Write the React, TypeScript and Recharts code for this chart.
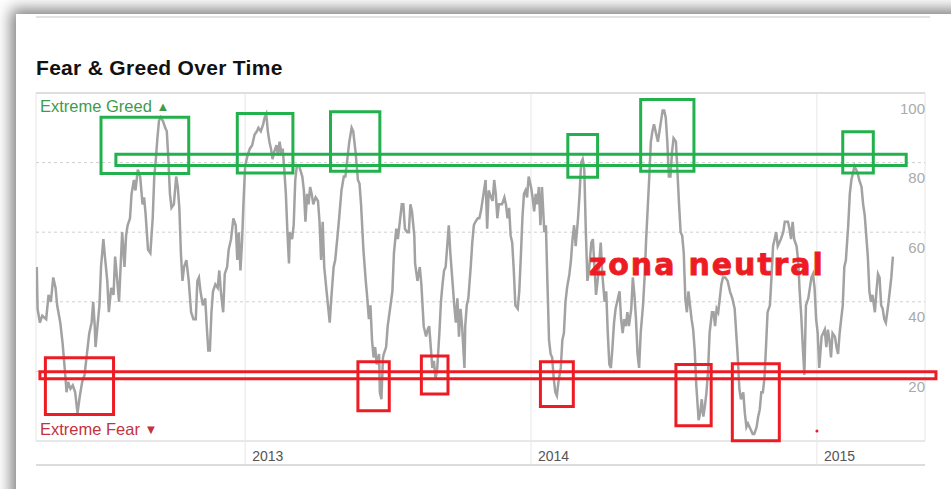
import React from "react";
import {
  LineChart,
  Line,
  XAxis,
  YAxis,
  CartesianGrid,
  ReferenceArea,
  ReferenceLine,
  ReferenceDot,
} from "recharts";

// days since 2013-01-01
const days = [
  -266, -265, -262, -259, -254, -251, -248, -245, -242, -240, -236, -233, -230, -228, -226, -223, -220, -217, -214, -211,
  -208, -205, -202, -199, -196, -194, -192, -191, -186, -184, -181, -179, -176, -174, -171, -168, -166, -164, -161, -159,
  -157, -154, -152, -150, -147, -145, -142, -140, -137, -134, -131, -129, -127, -124, -121, -118, -116, -114, -112, -110,
  -108, -105, -102, -100, -98, -96, -94, -91, -88, -86, -84, -82, -80, -78, -75, -72, -69, -66, -63, -61,
  -59, -57, -54, -51, -49, -47,
  -45, -43, -41, -38, -35, -33, -31, -28, -26, -23, -21, -18, -15, -12, -10, -8, -6, -4, -2, 0,
  3, 6, 9, 12, 15, 17, 20, 23, 25, 27, 29, 31, 33, 35, 37, 40, 42, 44, 46, 48,
  50, 52, 54, 56, 57, 60, 62, 64, 66, 69, 73, 75, 77, 79, 81, 83, 85, 87, 90, 93,
  95, 97, 99, 101, 104, 108, 110, 113, 115, 118, 120, 123, 126, 128, 131, 133, 136, 138, 141, 144,
  146, 148, 151, 154, 156, 158, 160, 162, 164, 166, 168, 171, 172, 174,
  176, 177, 180, 182, 185, 188, 190, 193, 195, 197, 200, 202, 204, 207, 209, 211, 213, 216, 217, 220,
  223, 225, 228, 231, 233, 235, 237, 239, 241, 243, 245, 248, 250, 252, 254, 256, 258, 260, 262, 265,
  267, 269, 271, 273, 275, 277, 280, 281, 283, 285, 288, 290, 292, 294, 297, 299, 301, 303, 305, 307,
  309, 311, 314, 316, 318, 320, 322, 324, 326, 328, 331, 333, 335, 337, 339, 341, 343, 345, 348, 350,
  352, 354, 356, 358, 360, 362, 365, 367, 369, 371, 373, 375, 377, 379, 382, 384, 386, 388, 390, 392, 394,
  396, 398, 400, 403, 405, 407, 409, 411, 414, 416, 418, 420, 422, 425, 427, 429, 431, 433, 435, 437,
  439, 442, 444, 446, 448, 450, 452, 454, 456, 459, 461, 463, 465, 467, 469, 471, 473, 476, 478, 480,
  482, 484, 486, 488, 490, 493, 495, 497, 499, 501, 503, 505, 508, 510, 512, 514, 516, 518, 520, 522,
  525, 527, 529, 531, 533, 535, 537, 539, 541, 543, 545, 547, 550, 552, 554, 556, 558, 560, 562, 564,
  566, 568, 570, 572, 574, 576, 579, 581, 583, 585, 587, 589, 591, 593, 596, 598, 600, 602, 604, 606,
  608, 610,
  613, 616, 619, 622, 625, 627, 629, 631, 633, 636, 638, 640, 642, 644, 646, 648, 650, 653, 655, 657,
  659, 661, 663, 665, 667, 670, 672, 674, 676, 678, 680, 682, 684, 687, 689, 691, 693, 695, 697, 699,
  701, 704, 706, 708, 710, 712, 714, 716, 719, 721, 723, 725, 727, 729, 731, 733, 736, 738, 740, 742,
  744, 746, 748, 750, 753, 755, 757, 759, 761, 763, 765, 767, 770, 772, 774, 776, 778, 780, 782, 784,
  787, 789, 791, 793, 795, 797, 799, 801, 804, 806, 808, 810, 812, 814, 816, 818, 821, 823, 825, 827,
];

const scores = [
  50, 38, 34, 36, 35, 42, 40, 47, 44, 39, 34, 28, 20, 14, 17, 15, 16, 14, 8, 13,
  17, 19, 25, 31, 34, 40, 33, 27, 39, 50, 58, 53, 46, 37, 44, 42, 53, 48, 40, 50,
  60, 50, 59, 62, 64, 71, 75, 72, 78, 76, 68, 70, 65, 55, 54, 64, 76, 81, 87, 92,
  93, 92, 90, 89, 81, 71, 67, 68, 76, 73, 67, 54, 46, 50, 52, 46, 37, 35, 35, 46,
  47, 43, 39, 41, 33, 26,
  26, 37, 43, 45, 44, 49, 43, 37, 48, 50, 55, 58, 64, 62, 52, 60, 49, 57, 69, 79,
  82, 84, 85, 88, 89, 90, 89, 91, 93, 94, 89, 86, 84, 81, 83, 85, 82, 86, 83, 84,
  78, 71, 60, 51, 60, 58, 62, 75, 79, 79, 76, 72, 63, 71, 68, 73, 71, 68, 70, 69,
  63, 52, 63, 50, 43, 34, 41, 50, 52, 59, 64, 72, 76, 76, 82, 86, 90, 89, 83, 75,
  74, 68, 55, 46, 41, 35, 39, 29, 24, 27, 22, 25, 14, 12,
  24, 25, 27, 33, 38, 43, 54, 61, 58, 62, 68, 68, 61, 60, 60, 68, 66, 59, 51, 46,
  50, 45, 33, 30, 32, 33, 27, 21, 23, 18, 20, 31, 40, 45, 49, 50, 56, 62, 54, 45,
  39, 34, 41, 30, 38, 33, 21, 33, 39, 41, 50, 57, 62, 63, 64, 64, 66, 69, 72, 75,
  61, 72, 70, 69, 75, 71, 64, 68, 68, 68, 70, 68, 64, 67, 59, 57, 49, 39, 38, 43,
  53, 64, 71, 72, 70, 76, 73, 70, 66, 71, 68, 73, 62, 73, 60, 62, 45, 29, 25, 24, 18,
  14, 13, 17, 21, 29, 31, 40, 44, 48, 52, 58, 62, 56, 64, 71, 80, 81, 78, 60, 46,
  49, 57, 58, 50, 42, 46, 51, 57, 48, 40, 43, 31, 22, 21, 27, 34, 38, 41, 43, 35,
  31, 35, 33, 37, 33, 38, 47, 42, 35, 25, 21, 31, 39, 47, 58, 67, 76, 86, 89, 91,
  88, 86, 89, 92, 95, 95, 93, 86, 76, 76, 83, 87, 86, 77, 68, 60, 59, 54, 41, 37,
  43, 39, 35, 32, 26, 16, 6, 8, 12, 7, 10, 14, 20, 31, 37, 37, 33, 38, 37, 41,
  45, 47,
  47, 46, 43, 41, 38, 31, 24, 15, 12, 14, 8, 4, 5, 4, 3, 2, 2, 4, 7, 9,
  14, 14, 18, 27, 37, 39, 47, 56, 58, 60, 56, 57, 58, 60, 63, 63, 63, 61, 58, 63,
  58, 56, 52, 43, 36, 27, 19, 39, 41, 44, 47, 48, 44, 35, 31, 21, 30, 31, 32, 27,
  32, 29, 24, 31, 30, 27, 25, 31, 35, 39, 50, 52, 62, 71, 75, 77, 79, 78, 77, 75,
  73, 68, 65, 59, 53, 43, 40, 42, 37, 43, 48, 47, 39, 38, 35, 34, 39, 43, 47, 53,
];

const yearTicks = [0, 365, 730];
const yearLabels = ["2013", "2014", "2015"];
const scoreTicks = [20, 40, 60, 80, 100];

// annotation boxes: [fromDay, toDay, lowScore, highScore]
const greedBand = [-165, 844, 79.2, 82.4];
const greedBoxes = [
  [-184, -72, 76.9, 93.0],
  [-10, 61, 77.0, 94.1],
  [109, 172, 77.5, 94.6],
  [412, 450, 75.8, 88.1],
  [505, 573, 77.5, 98.1],
  [763, 802, 77.0, 88.9],
];
const fearBand = [-262, 882, 17.9, 19.9];
const fearBoxes = [
  [-255, -168, 7.6, 23.9],
  [144, 184, 8.7, 22.8],
  [225, 259, 13.5, 24.4],
  [377, 419, 9.9, 22.8],
  [550, 595, 4.4, 22.0],
  [622, 682, 0.1, 22.2],
];

const GREEN = "#22b14c";
const RED = "#ed1c24";

const chartData = days.map((d, i) => ({ day: d, score: scores[i] }));

// right-side score label, drawn just under its gridline
const scoreLabel = (value: number) => (props: any) => {
  const vb = props.viewBox || {};
  return (
    <text
      x={vb.x + vb.width}
      y={vb.y + 15}
      textAnchor="end"
      fill="#aaa"
      fontSize={15}
      dominantBaseline="central"
    >
      {value}
    </text>
  );
};

export default function App() {
  const box = (b: number[], color: string, key: string) => (
    <ReferenceArea
      key={key}
      x1={b[0]}
      x2={b[1]}
      y1={b[2]}
      y2={b[3]}
      fill="none"
      fillOpacity={0}
      stroke={color}
      strokeWidth={3}
      ifOverflow="visible"
      zIndex={700}
    />
  );

  return (
    <div
      style={{
        position: "absolute",
        left: 0,
        top: 0,
        width: 951,
        height: 489,
        overflow: "hidden",
        background: "#fff",
        fontFamily: "Arial, 'Liberation Sans', sans-serif",
      }}
    >
      <div
        style={{
          position: "absolute",
          left: 16,
          top: 14,
          width: 980,
          height: 520,
          background: "#fff",
          boxShadow: "-2px -2px 14px 3px rgba(0,0,0,0.5)",
        }}
      />
      <div style={{ position: "absolute", left: 36, top: 16, width: 894, height: 2, background: "#e2e2e2" }} />
      <div
        style={{
          position: "absolute",
          left: 36,
          top: 56,
          fontSize: 21,
          fontWeight: 700,
          color: "#111",
          lineHeight: "24px",
          letterSpacing: 0.3,
        }}
      >
        Fear &amp; Greed Over Time
      </div>

      <div style={{ position: "absolute", left: 0, top: 0 }}>
        <LineChart width={951} height={489} data={chartData} margin={{ top: 93, right: 26, bottom: 22, left: 36 }}>
          <CartesianGrid horizontal={false} stroke="#e6e6e6" />
          {scoreTicks.map((v) => (
            <ReferenceLine
              key={v}
              y={v}
              stroke={v === 100 ? "#dedede" : "#cfcfcf"}
              strokeWidth={v === 100 ? 2 : 1}
              strokeDasharray={v === 100 ? undefined : "3 3"}
              label={{ content: scoreLabel(v) }}
            />
          ))}
          <XAxis
            dataKey="day"
            type="number"
            domain={[-267, 868]}
            allowDataOverflow
            ticks={yearTicks}
            height={24}
            axisLine={{ stroke: "#e8e8e8", strokeWidth: 2 }}
            tickLine={false}
            tickSize={0}
            tickMargin={0}
            tick={(p: any) => (
              <g>
                <line x1={p.x} x2={p.x} y1={p.y} y2={p.y + 24} stroke="#e6e6e6" />
                <text x={p.x + 7} y={p.y + 15} fill="#555" fontSize={14} dominantBaseline="central">
                  {yearLabels[yearTicks.indexOf(p.payload.value)]}
                </text>
              </g>
            )}
          />
          <XAxis
            xAxisId="frame"
            dataKey="day"
            type="number"
            domain={[-267, 868]}
            allowDataOverflow
            height={2}
            tick={false}
            tickLine={false}
            axisLine={{ stroke: "#dcdcdc", strokeWidth: 2 }}
          />
          <YAxis hide domain={[0, 100]} ticks={scoreTicks} />
          <Line
            type="linear"
            dataKey="score"
            stroke="#a2a2a2"
            strokeWidth={2.5}
            dot={false}
            isAnimationActive={false}
          />
          {box(greedBand, GREEN, "gband")}
          {greedBoxes.map((b, i) => box(b, GREEN, `g${i}`))}
          {box(fearBand, RED, "fband")}
          {fearBoxes.map((b, i) => box(b, RED, `f${i}`))}
          <ReferenceDot x={730} y={2.9} r={1.5} fill={RED} stroke="none" ifOverflow="visible" />
        </LineChart>
      </div>

      <div style={{ position: "absolute", left: 40, top: 97, fontSize: 16.5, lineHeight: "18px", color: "#3d9c4c" }}>
        Extreme Greed <span style={{ fontSize: 13, verticalAlign: "1px" }}>▲</span>
      </div>
      <div style={{ position: "absolute", left: 40, top: 420, fontSize: 16.5, lineHeight: "18px", color: "#c2333d" }}>
        Extreme Fear <span style={{ fontSize: 13, verticalAlign: "1px" }}>▼</span>
      </div>
      <div
        style={{
          position: "absolute",
          left: 589,
          top: 248,
          fontFamily: "'DejaVu Sans', sans-serif",
          fontWeight: 700,
          fontSize: 30,
          lineHeight: "34px",
          letterSpacing: 1.9,
          color: RED,
          WebkitTextStroke: "0.8px " + RED,
        }}
      >
        zona neutral
      </div>
    </div>
  );
}
